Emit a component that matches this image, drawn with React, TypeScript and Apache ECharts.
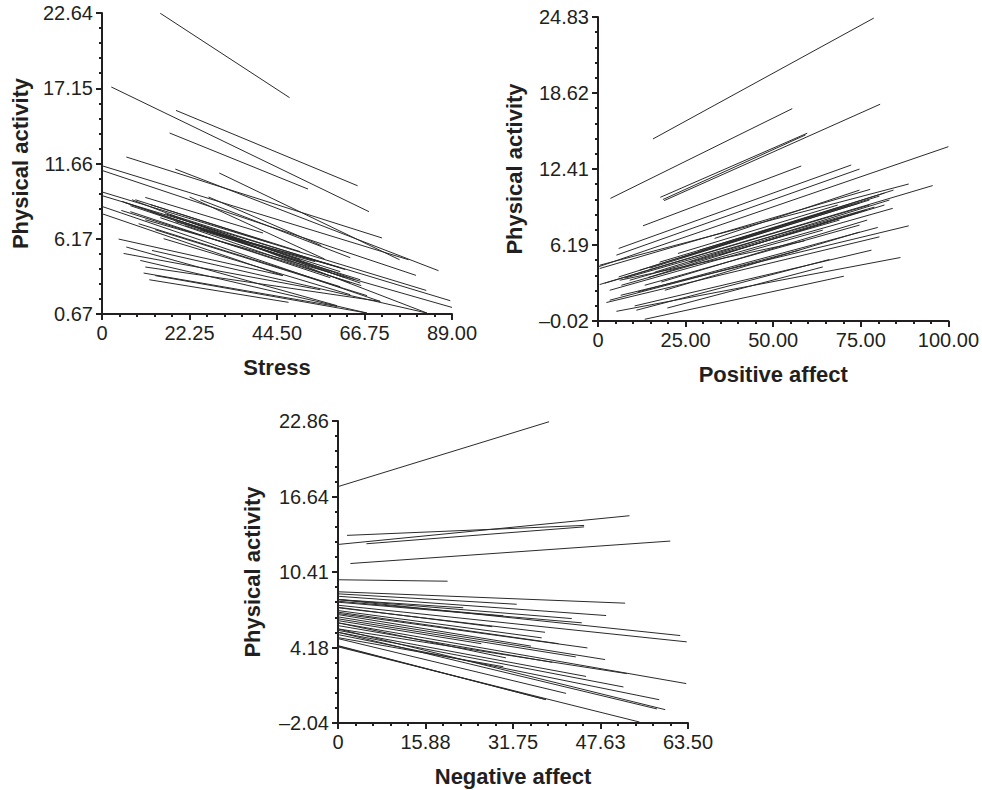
import React, { useEffect, useRef } from "react";
import * as echarts from "echarts";

// ---- tick labels ----
const stressTicks = ["0", "22.25", "44.50", "66.75", "89.00"];
const positiveTicks = ["0", "25.00", "50.00", "75.00", "100.00"];
const negativeTicks = ["0", "15.88", "31.75", "47.63", "63.50"];
const stressYTicks = ["0.67", "6.17", "11.66", "17.15", "22.64"];
const positiveYTicks = ["\u20130.02", "6.19", "12.41", "18.62", "24.83"];
const negativeYTicks = ["\u20132.04", "4.18", "10.41", "16.64", "22.86"];

// ---- axis ranges ----
const stressX = [0, 89];
const stressY = [0.67, 22.64];
const positiveX = [0, 100];
const positiveY = [-0.02, 24.83];
const negativeX = [0, 63.5];
const negativeY = [-2.04, 22.86];

// ---- segments: [x1, y1, x2, y2] ----
const stressSegments: number[][] = [
  [14.82, 22.62, 47.7, 16.46],
  [2.36, 17.24, 67.89, 8.14],
  [18.82, 15.53, 64.99, 10.03],
  [17.19, 13.88, 52.38, 9.79],
  [6.18, 12.13, 71.19, 6.22],
  [0, 11.49, 77.96, 4.63],
  [0, 11.15, 79.84, 3.49],
  [18.64, 11.25, 85.58, 3.83],
  [29.82, 10.96, 75.67, 4.63],
  [0, 9.58, 82.46, 2.39],
  [0, 9.31, 88.56, 1.64],
  [0, 8.52, 70.76, 1.59],
  [0, 7.99, 46.02, 3.47],
  [5.09, 8.89, 65.68, 2.93],
  [7.63, 9.01, 82.63, 0.74],
  [11.01, 9.18, 40.94, 6.58],
  [27.1, 9.21, 55.76, 5.66],
  [22.27, 9.21, 56.6, 4.68],
  [4.91, 8.23, 65.93, 2.74],
  [9.31, 7.26, 60.59, 2.66],
  [13.55, 6.82, 67.38, 2.01],
  [15.66, 6.17, 63.13, 2.08],
  [4.22, 6.14, 46.02, 3.47],
  [6.18, 5.56, 59.75, 1.28],
  [5.49, 5.09, 55.5, 2.44],
  [9.74, 4.58, 67.38, 0.74],
  [11.01, 4.1, 70.76, 1.59],
  [10.58, 3.66, 59.75, 1.22],
  [13.55, 3.47, 67.38, 0.74],
  [12.03, 3.17, 47.44, 1.52],
  [12.71, 5.31, 82.63, 0.74],
  [11.01, 7.55, 89.0, 1.15],
  [5.92, 8.79, 58.05, 3.76],
  [7.2, 8.58, 61.86, 3.32],
  [12.28, 8.14, 60.59, 3.76],
  [14.82, 7.7, 63.13, 2.95],
  [18.64, 7.41, 58.05, 4.27],
  [16.1, 7.99, 50.42, 4.63],
  [21.18, 7.12, 65.68, 3.17],
  [24.99, 6.82, 54.23, 4.49],
  [8.47, 9.01, 42.79, 5.87],
  [24.99, 9.01, 63.13, 4.78],
  [7.2, 8.14, 58.05, 3.32],
  [17.37, 7.92, 61.86, 3.91],
  [22.45, 7.41, 64.4, 3.17],
  [12.28, 8.66, 50.42, 5.22],
  [27.54, 6.68, 60.59, 4.05],
];

const positiveSegments: number[][] = [
  [15.68, 14.86, 78.7, 24.74],
  [3.54, 10.0, 55.43, 17.34],
  [17.79, 10.09, 59.71, 15.33],
  [18.53, 9.91, 59.22, 15.19],
  [18.88, 9.82, 80.52, 17.7],
  [12.83, 7.76, 58.0, 12.65],
  [0, 4.4, 100, 14.23],
  [5.9, 5.91, 72.26, 12.73],
  [5.25, 5.36, 74.63, 12.4],
  [0.48, 4.54, 88.68, 11.18],
  [0.48, 4.27, 77.67, 10.74],
  [0.48, 2.96, 95.52, 11.05],
  [5.9, 3.58, 84.32, 10.68],
  [6.67, 2.9, 84.12, 9.19],
  [14.26, 3.53, 76.53, 9.05],
  [11.41, 2.36, 79.84, 7.63],
  [18.08, 3.17, 76.82, 8.23],
  [6.47, 2.08, 88.68, 7.76],
  [22.81, 5.5, 68.43, 9.46],
  [33.28, 6.73, 74.63, 10.68],
  [2.4, 1.49, 80.32, 6.86],
  [13.32, 0.12, 70.15, 3.64],
  [10.95, 0.86, 66.07, 5.01],
  [10.46, 1.21, 78.04, 5.77],
  [19.79, 1.04, 64.16, 4.4],
  [5.25, 0.77, 86.31, 5.17],
  [3.34, 2.49, 64.16, 7.41],
  [6.19, 3.31, 58.94, 6.53],
  [11.89, 4.13, 71.77, 9.46],
  [14.74, 4.3, 77.47, 9.87],
  [17.59, 4.79, 80.32, 10.19],
  [23.3, 5.12, 74.63, 9.62],
  [29.0, 5.77, 81.75, 10.44],
  [9.04, 3.31, 68.92, 8.23],
  [13.32, 2.9, 74.63, 7.82],
  [3.34, 1.68, 57.51, 5.77],
  [1.91, 3.07, 77.47, 9.46],
  [7.61, 3.48, 78.9, 9.29],
  [16.17, 3.97, 83.18, 9.87],
  [26.15, 4.79, 74.63, 8.88],
  [34.7, 5.36, 81.75, 9.46],
  [19.07, 2.49, 74.63, 7.25],
];

const negativeSegments: number[][] = [
  [0, 17.45, 38.29, 22.8],
  [1.64, 13.43, 44.65, 14.25],
  [0, 12.68, 52.88, 15.05],
  [5.16, 12.74, 44.65, 14.13],
  [2.25, 11.11, 60.28, 12.96],
  [0, 9.77, 19.88, 9.65],
  [0, 8.78, 52.1, 7.84],
  [0, 8.61, 32.42, 7.75],
  [0, 8.41, 48.65, 6.82],
  [0, 8.14, 42.41, 6.57],
  [0, 8.14, 62.09, 5.17],
  [0, 7.92, 44.23, 6.22],
  [0, 7.67, 63.27, 4.65],
  [0, 7.46, 37.56, 5.44],
  [0, 7.23, 36.96, 4.98],
  [0, 6.99, 45.25, 4.15],
  [0, 8.14, 22.72, 7.46],
  [0, 6.71, 48.46, 3.19],
  [0, 6.55, 43.14, 3.41],
  [0, 6.22, 30.47, 3.33],
  [0, 5.99, 38.89, 2.96],
  [0, 6.22, 63.18, 1.21],
  [0, 5.72, 52.41, 2.03],
  [0, 5.44, 51.79, 0.93],
  [0, 5.25, 58.28, -0.12],
  [0, 4.92, 41.38, 0.4],
  [0, 5.72, 59.37, -0.94],
  [0, 5.44, 57.86, -0.88],
  [0, 4.34, 37.74, -0.12],
  [0, 4.24, 54.7, -1.96],
  [0, 4.3, 37.5, -0.08],
  [0, 8.0, 30, 6.8],
  [0, 7.5, 28, 5.9],
  [0, 6.9, 35, 4.3],
  [0, 6.4, 26, 4.5],
  [0, 7.1, 40, 4.5],
  [0, 5.6, 45, 1.8],
  [0, 5.0, 30, 2.6],
];

const INK = "#231f20";
const FONT = "'Liberation Sans', Arial, sans-serif";

type Panel = {
  grid: { left: number; top: number; width: number; height: number };
  xRange: number[];
  yRange: number[];
  xTicks: string[];
  yTicks: string[];
  xName: string;
  yName: string;
  yGap: number;
  segments: number[][];
};

const panels: Panel[] = [
  {
    grid: { left: 102, top: 13, width: 350, height: 301 },
    xRange: stressX, yRange: stressY, xTicks: stressTicks, yTicks: stressYTicks,
    xName: "Stress", yName: "Physical activity", yGap: 71, segments: stressSegments,
  },
  {
    grid: { left: 598, top: 17, width: 351, height: 304 },
    xRange: positiveX, yRange: positiveY, xTicks: positiveTicks, yTicks: positiveYTicks,
    xName: "Positive affect", yName: "Physical activity", yGap: 73, segments: positiveSegments,
  },
  {
    grid: { left: 338, top: 421, width: 350, height: 302 },
    xRange: negativeX, yRange: negativeY, xTicks: negativeTicks, yTicks: negativeYTicks,
    xName: "Negative affect", yName: "Physical activity", yGap: 75, segments: negativeSegments,
  },
];

function buildOption() {
  const grids: any[] = [];
  const xAxes: any[] = [];
  const yAxes: any[] = [];
  const series: any[] = [];
  panels.forEach((p, i) => {
    const xStep = (p.xRange[1] - p.xRange[0]) / (p.xTicks.length - 1);
    const yStep = (p.yRange[1] - p.yRange[0]) / (p.yTicks.length - 1);
    const yMin = p.yRange[0];
    grids.push({ ...p.grid, containLabel: false });
    const common = {
      gridIndex: i,
      type: "value",
      nameLocation: "middle",
      splitLine: { show: false },
      axisLine: { show: true, onZero: false, lineStyle: { color: INK, width: 2 } },
      axisTick: { show: true, length: 6, lineStyle: { color: INK, width: 2 } },
      minorTick: { show: true, splitNumber: 5, length: 3, lineStyle: { color: INK, width: 2 } },
    };
    const labelBase = {
      color: INK, fontSize: 20, fontFamily: FONT, margin: 9,
      showMinLabel: true, showMaxLabel: true, hideOverlap: false,
    };
    xAxes.push({
      ...common,
      min: 0,
      max: p.xRange[1] - p.xRange[0],
      interval: xStep,
      name: p.xName,
      nameGap: 42,
      nameTextStyle: { color: INK, fontSize: 22, fontWeight: "bold", fontFamily: FONT },
      axisLabel: { ...labelBase, formatter: (v: number) => p.xTicks[Math.round(v / xStep)] ?? "" },
    });
    yAxes.push({
      ...common,
      min: 0,
      max: p.yRange[1] - p.yRange[0],
      interval: yStep,
      name: p.yName,
      nameGap: p.yGap,
      nameTextStyle: { color: INK, fontSize: 22, fontWeight: "bold", fontFamily: FONT },
      axisLabel: { ...labelBase, formatter: (v: number) => p.yTicks[Math.round(v / yStep)] ?? "" },
    });
    series.push({
      type: "lines",
      coordinateSystem: "cartesian2d",
      xAxisIndex: i,
      yAxisIndex: i,
      polyline: false,
      silent: true,
      lineStyle: { color: "#2a2a2a", width: 1, opacity: 1 },
      data: p.segments.map((s) => ({
        coords: [
          [s[0] - p.xRange[0], s[1] - yMin],
          [s[2] - p.xRange[0], s[3] - yMin],
        ],
      })),
    });
  });
  return {
    animation: false,
    backgroundColor: "#ffffff",
    grid: grids,
    xAxis: xAxes,
    yAxis: yAxes,
    series,
  };
}

export default function App() {
  const ref = useRef<HTMLDivElement>(null);
  useEffect(() => {
    if (!ref.current) return;
    const chart = echarts.init(ref.current, undefined, { renderer: "svg" });
    chart.setOption(buildOption() as any);
    return () => chart.dispose();
  }, []);
  return (
    <div
      ref={ref}
      style={{ position: "absolute", left: 0, top: 0, width: 982, height: 790, background: "#fff" }}
    />
  );
}
